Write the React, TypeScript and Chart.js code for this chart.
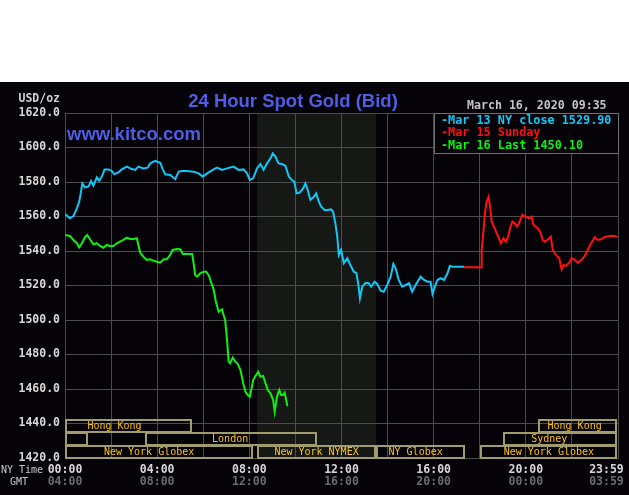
import React, { useEffect, useRef } from 'react';
import { Chart, registerables } from 'chart.js';
Chart.register(...registerables);

// ---- data (minutes after 00:00 NY time, price USD/oz) ----
const cyanTimes = [0,13,22,31,37,41,45,52,61,68,74,83,89,96,103,113,122,128,139,148,161,174,183,191,204,215,222,235,248,255,261,274,287,296,304,317,335,348,359,370,387,396,409,422,439,452,465,474,481,490,500,509,517,526,535,541,548,556,565,574,583,591,597,603,611,620,626,632,639,648,654,661,667,676,684,693,698,704,709,713,719,726,735,743,752,759,764,768,774,783,791,797,806,813,822,830,839,848,855,861,869,878,887,896,904,913,926,935,944,952,957,963,970,978,987,996,1002,1009,1039];
const cyanValues = [1561.4,1559,1560.3,1564.7,1568.6,1573.4,1579.2,1576.9,1577.3,1580.6,1577.9,1582.7,1580.8,1583.1,1587.3,1587.3,1586.4,1584.5,1585.6,1587.3,1588.9,1587.5,1587,1588.9,1587.9,1588.3,1590.8,1592.2,1591.2,1587,1584.5,1584.1,1581.6,1586,1586.4,1586.4,1586,1585,1583.1,1585,1587.3,1588.3,1587,1587.9,1588.9,1587,1587.3,1585,1581.2,1582.1,1587.9,1590.4,1587,1590.8,1593.7,1596.6,1594.7,1590.8,1590.4,1589.3,1583.1,1581.2,1580.2,1573.4,1573.8,1576.3,1579.2,1575.4,1569.6,1571.5,1573.4,1568.6,1565.7,1563.8,1563.8,1564.2,1562.8,1556.1,1548.3,1537.7,1540.6,1532.9,1535.8,1531.9,1528,1527.1,1520.3,1512.6,1519.3,1521.6,1521.3,1519.3,1522.2,1520.9,1517,1516.4,1520.3,1525.1,1532.5,1530,1523.2,1519.3,1520.3,1521.3,1516.4,1520.3,1525.1,1523.2,1522.2,1522.2,1515.1,1519.3,1523.2,1524.2,1523.2,1527.1,1531.3,1530.9,1530.9];

const redTimes = [1039,1084,1085,1089,1094,1098,1103,1107,1111,1117,1124,1130,1135,1142,1148,1154,1159,1165,1171,1177,1183,1191,1200,1209,1215,1220,1231,1237,1244,1250,1258,1265,1270,1278,1287,1293,1298,1304,1313,1319,1326,1335,1343,1352,1361,1370,1380,1387,1396,1404,1417,1430,1439];
const redValues = [1530.6,1530.6,1540.6,1550.3,1562.8,1568.6,1571.5,1565.7,1557,1554.1,1550.3,1547.4,1544.5,1547.4,1545.4,1548.3,1553.2,1557,1556.1,1554.1,1556.4,1560.9,1559.9,1558.9,1559.9,1555.1,1553.2,1551.2,1546.4,1545.4,1546.8,1548.3,1540.6,1537.7,1535.8,1529.4,1531.9,1531.3,1533.2,1535.8,1535.2,1533.2,1534.4,1536.7,1540.6,1544.5,1548,1546.4,1546.8,1548,1548.7,1548.7,1548.3];

const greenTimes = [0,13,22,31,37,44,52,58,65,74,83,91,100,109,117,126,135,143,152,161,170,178,187,191,196,204,213,222,230,239,248,257,265,274,280,292,300,307,331,335,339,344,352,361,368,375,380,387,393,400,409,413,417,422,426,430,437,443,449,457,464,470,476,481,485,490,496,503,509,516,522,528,535,542,546,552,558,563,568,572,576,579];
const greenValues = [1549.3,1548.7,1546.4,1544.5,1542.1,1544.5,1548,1549.3,1546.8,1543.9,1544.5,1542.9,1541.9,1543.5,1542.9,1542.9,1544.5,1545.4,1546.4,1547.7,1547,1547,1547.4,1543.5,1539,1536.7,1534.8,1535.2,1534.4,1533.8,1533.2,1535.2,1535.2,1537.7,1540.6,1541.2,1541,1538.3,1538.3,1532.9,1526.1,1525.1,1527.1,1528,1528,1525.5,1522.2,1517.8,1510.6,1504.8,1506.2,1502.9,1500,1488.4,1475.9,1474.9,1478.2,1475.9,1474.9,1471,1463.3,1458.4,1456.5,1455.5,1459.4,1465.2,1467.5,1470,1467.1,1467.5,1463.3,1459.4,1457.5,1453.6,1446.8,1455.5,1459.4,1456.5,1456.5,1457.9,1453.6,1450.1];

const legendLabels = ['Mar 13 NY close 1529.90', 'Mar 15 Sunday', 'Mar 16 Last 1450.10'];

const gridMinutes = [0,120,240,360,480,600,720,840,960,1080,1200,1320,1440];
const labelMinutes = [0,240,480,720,960,1200,1410];
const nyLabels = ['00:00','04:00','08:00','12:00','16:00','20:00','23:59'];
const gmtLabels = ['04:00','08:00','12:00','16:00','20:00','00:00','03:59'];

// trading sessions (row 0 = top)
const sessionNames = ['Hong Kong','','London','New York Globex','New York NYMEX','NY Globex','New York Globex','Sydney','Hong Kong'];
const sessionRows = [0,1,1,2,2,2,2,1,0];
const sessionStarts = [0,0,209,0,500,810,1080,1140,1231];
const sessionEnds = [331,60,657,490,810,1041,1438,1438,1438];
const sessionLabelAt = [129,30,430,219,655,913,1260,1261,1327];
const nymexStart = 500;
const nymexEnd = 810;

const titleText = '24 Hour Spot Gold (Bid)';
const siteText = 'www.kitco.com';
const dateText = 'March 16, 2020 09:35';
const unitText = 'USD/oz';

const CYAN = '#10c8f8';
const RED = '#ff1010';
const GREEN = '#10f010';
const GRID = '#4c4c4c';
const MONO = '"DejaVu Sans Mono", "Liberation Mono", monospace';

const pts = (t: number[], v: number[]) => t.map((x, i) => ({ x, y: v[i] }));

const decor = {
  id: 'kitcoDecor',
  beforeDraw(chart: any) {
    const { ctx, chartArea, scales } = chart;
    ctx.save();
    ctx.fillStyle = '#ffffff';
    ctx.fillRect(0, 0, chart.width, chart.height);
    ctx.fillStyle = '#050308';
    ctx.fillRect(0, 82, chart.width, chart.height - 82);
    const x1 = scales.x.getPixelForValue(nymexStart);
    const x2 = scales.x.getPixelForValue(nymexEnd);
    ctx.fillStyle = '#151815';
    ctx.fillRect(x1, chartArea.top, x2 - x1, chartArea.bottom - chartArea.top);
    ctx.restore();
  },
  afterDatasetsDraw(chart: any) {
    const { ctx, chartArea, scales } = chart;
    const xs = scales.x;
    ctx.save();
    // sessions
    const rowH = 13;
    ctx.lineWidth = 2;
    ctx.strokeStyle = '#a09c6c';
    ctx.font = `10px ${MONO}`;
    ctx.textAlign = 'center';
    ctx.textBaseline = 'middle';
    sessionNames.forEach((name, i) => {
      const top = chartArea.bottom - (3 - sessionRows[i]) * rowH;
      const a = Math.round(xs.getPixelForValue(sessionStarts[i]));
      const b = Math.round(xs.getPixelForValue(sessionEnds[i]));
      ctx.strokeRect(a + 1, top + 1, b - a - 2, rowH - 1);
      if (name) {
        ctx.fillStyle = '#fcc414';
        ctx.fillText(name, xs.getPixelForValue(sessionLabelAt[i]), top + rowH / 2 + 1);
      }
    });
    // legend box
    const lx = 434, ly = chartArea.top;
    ctx.fillStyle = '#050308';
    ctx.fillRect(lx, ly, chartArea.right - lx, 40);
    ctx.lineWidth = 1;
    ctx.strokeStyle = '#707070';
    ctx.strokeRect(lx + 0.5, ly + 0.5, chartArea.right - lx, 40);
    ctx.font = `bold 11.8px ${MONO}`;
    ctx.textAlign = 'left';
    const cols = [CYAN, RED, GREEN];
    legendLabels.forEach((t, i) => {
      ctx.fillStyle = cols[i];
      ctx.fillText('-' + t, 441, ly + 7.5 + i * 12.7);
    });
    // title texts
    ctx.fillStyle = '#4f5de8';
    ctx.font = 'bold 18.5px "Liberation Sans", Arial, sans-serif';
    ctx.textAlign = 'center';
    ctx.fillText(titleText, 293, 102);
    ctx.font = 'bold 18.5px "Liberation Sans", Arial, sans-serif';
    ctx.textAlign = 'left';
    ctx.fillText(siteText, 67, 135);
    ctx.fillStyle = '#c4c4c4';
    ctx.font = `bold 11.6px ${MONO}`;
    ctx.fillText(dateText, 467, 106);
    ctx.textAlign = 'right';
    ctx.fillStyle = '#d0d0d0';
    ctx.font = `bold 11.5px ${MONO}`;
    ctx.fillText(unitText, 60, 99);
    ctx.textAlign = 'left';
    ctx.font = `10px ${MONO}`;
    ctx.fillStyle = '#c8c8c8';
    ctx.fillText('NY Time', 1, 470);
    ctx.fillText('GMT', 10, 482);
    ctx.restore();
  },
};

export default function App() {
  const ref = useRef<HTMLCanvasElement>(null);
  useEffect(() => {
    if (!ref.current) return;
    const tickFont = { family: MONO, size: 11.5, weight: 'bold' as const, lineHeight: 1 };
    const allTicks = Array.from(new Set([...gridMinutes, ...labelMinutes])).sort((a, b) => a - b);
    const chart = new Chart(ref.current, {
      type: 'line',
      data: {
        datasets: [
          { data: pts(cyanTimes, cyanValues), borderColor: CYAN, borderWidth: 2, pointRadius: 0, tension: 0 },
          { data: pts(redTimes, redValues), borderColor: RED, borderWidth: 2, pointRadius: 0, tension: 0 },
          { data: pts(greenTimes, greenValues), borderColor: GREEN, borderWidth: 2, pointRadius: 0, tension: 0 },
        ],
      },
      options: {
        animation: false,
        responsive: false,
        devicePixelRatio: 1,
        layout: { padding: { top: 113, right: 11, left: 0, bottom: 0 } },
        plugins: { legend: { display: false }, tooltip: { enabled: false } },
        scales: {
          x: {
            type: 'linear',
            position: 'bottom',
            weight: 1,
            min: 0,
            max: 1440,
            afterBuildTicks: (axis: any) => { axis.ticks = allTicks.map((v) => ({ value: v })); },
            afterFit: (axis: any) => { axis.height = 17; },
            grid: {
              drawTicks: false,
              color: (c: any) => (gridMinutes.includes(c.tick?.value) ? GRID : 'rgba(0,0,0,0)'),
            },
            border: { color: GRID },
            ticks: {
              autoSkip: false,
              maxRotation: 0,
              padding: 6,
              color: '#d8d8d8',
              font: tickFont,
              callback: (v: any) => {
                const i = labelMinutes.indexOf(Number(v));
                return i >= 0 ? nyLabels[i] : '';
              },
            },
          },
          x2: {
            type: 'linear',
            position: 'bottom',
            weight: 2,
            min: 0,
            max: 1440,
            afterBuildTicks: (axis: any) => { axis.ticks = allTicks.map((v) => ({ value: v })); },
            afterFit: (axis: any) => { axis.height = 20; },
            grid: { display: false, drawTicks: false },
            border: { display: false },
            ticks: {
              autoSkip: false,
              maxRotation: 0,
              padding: 1,
              color: '#6c6c6c',
              font: tickFont,
              callback: (v: any) => {
                const i = labelMinutes.indexOf(Number(v));
                return i >= 0 ? gmtLabels[i] : '';
              },
            },
          },
          y: {
            type: 'linear',
            min: 1420,
            max: 1620,
            afterFit: (axis: any) => { axis.width = 65; },
            grid: { drawTicks: false, color: GRID },
            border: { color: GRID },
            ticks: {
              stepSize: 20,
              padding: 5,
              color: '#d8d8d8',
              font: tickFont,
              callback: (v: any) => Number(v).toFixed(1),
            },
          },
        },
      },
      plugins: [decor],
    } as any);
    return () => chart.destroy();
  }, []);
  return (
    <div style={{ position: 'absolute', left: 0, top: 0, width: 629, height: 495 }}>
      <canvas ref={ref} width={629} height={495} style={{ width: 629, height: 495, display: 'block' }} />
    </div>
  );
}
